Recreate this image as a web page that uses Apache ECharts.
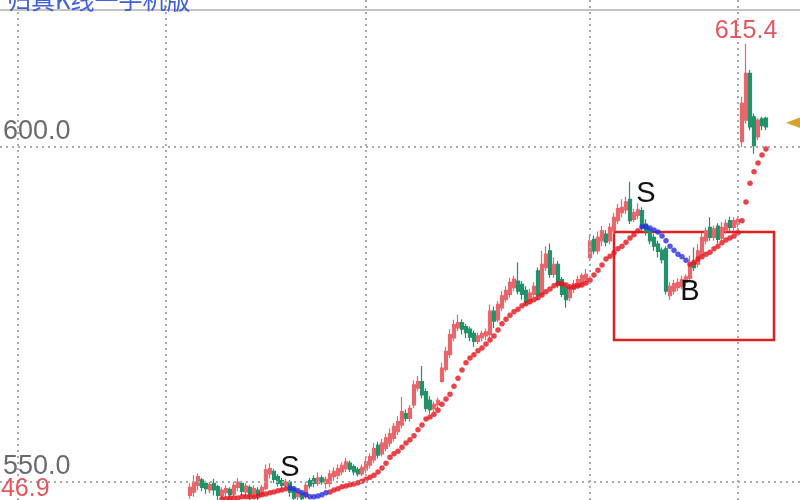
<!DOCTYPE html>
<html>
<head>
<meta charset="utf-8">
<script src="https://cdn.jsdelivr.net/npm/echarts@6/dist/echarts.min.js"></script>
<style>html,body{margin:0;padding:0;background:#fff;}#chart{width:800px;height:500px;}</style>
</head>
<body>
<div id="chart"></div>
<script>
// ---- data ----
const categoryCount = 200;
const firstCandleIndex = 47;
const opens = [
548.0,548.5,549.5,550.3,549.8,548.8,549.8,549.3,548.0,548.4,
548.9,548.2,549.2,549.8,548.5,549.2,548.3,548.8,548.2,549.0,
551.2,551.6,550.8,550.2,549.5,550.0,549.0,547.8,548.3,547.8,
550.2,550.5,549.8,550.6,549.8,549.8,550.8,551.0,551.5,552.0,
552.8,552.3,551.9,551.2,551.8,552.5,553.3,555.5,554.2,555.0,
555.8,556.5,557.5,558.5,560.2,559.5,561.5,564.0,565.0,563.5,
562.2,560.9,561.5,565.0,566.8,569.0,571.5,573.0,573.8,573.2,
572.8,572.2,571.0,571.5,571.8,572.0,575.5,574.2,576.0,577.2,
578.0,579.0,580.0,579.5,578.6,577.0,578.0,581.5,578.0,582.0,
584.5,581.0,582.5,580.2,579.0,577.5,578.8,579.2,579.6,580.2,
583.5,586.2,584.5,586.0,587.0,586.0,587.5,589.0,590.2,590.6,
592.2,589.2,589.8,590.5,588.5,587.6,586.5,585.5,584.6,584.8,
577.8,578.5,579.0,579.2,579.8,580.4,582.8,582.5,584.0,586.0,
588.0,586.5,588.2,586.4,587.6,589.0,588.0,588.5,600.8,604.0,
611.0,604.5,601.5,604.2,604.3];
const closes = [
549.2,550.0,550.8,549.2,549.0,549.6,548.8,548.0,548.8,549.0,
548.1,549.5,550.0,548.6,549.4,548.2,549.0,548.0,549.2,551.8,
552.0,550.4,549.8,549.5,550.0,548.5,547.6,548.4,547.5,549.5,
549.4,549.8,550.6,550.0,550.4,551.2,551.6,552.0,552.5,553.0,
551.9,551.5,551.2,552.2,553.0,553.8,555.0,554.0,555.8,556.6,
557.2,558.3,559.0,560.5,559.5,561.0,564.5,565.0,563.0,561.0,
560.8,561.6,562.2,567.0,569.5,572.0,573.5,573.8,572.8,572.3,
571.6,571.0,571.8,572.2,572.4,575.5,574.0,576.5,577.8,578.6,
579.8,580.3,578.5,578.0,576.8,578.2,579.2,577.8,582.5,584.0,
581.0,582.5,579.5,578.0,577.2,579.0,579.6,580.2,580.8,581.0,
586.0,584.5,586.5,587.5,585.8,588.0,589.5,590.8,591.0,591.8,
589.0,590.2,590.6,588.0,587.4,586.0,585.2,584.4,583.2,578.5,
579.2,579.6,579.8,580.2,580.6,582.5,582.0,584.5,586.5,587.5,
586.5,587.8,586.2,588.0,588.6,588.0,589.0,589.2,606.5,611.0,
603.0,600.2,604.0,603.2,603.0];
const lows = [
547.5,547.8,548.8,548.6,548.2,548.3,548.0,547.3,547.4,547.6,
547.4,547.8,548.6,548.0,547.7,546.9,547.6,547.2,547.8,548.8,
550.5,549.8,549.3,548.8,549.0,547.8,547.0,547.2,547.0,547.5,
549.0,549.2,549.4,549.6,549.0,549.2,550.2,550.4,551.0,551.5,
551.5,551.0,550.8,550.9,551.3,552.0,552.8,553.5,553.8,554.6,
555.2,556.0,557.0,558.0,559.0,559.0,561.0,563.5,562.5,560.5,
560.2,560.5,561.0,564.8,566.5,568.5,571.0,572.5,572.0,571.5,
571.0,570.2,570.6,571.0,571.2,571.5,573.0,573.8,575.5,576.8,
577.5,578.5,578.0,577.2,576.3,576.5,577.5,577.2,577.6,581.5,
580.5,580.5,579.0,577.6,576.0,577.0,578.2,578.8,579.2,579.6,
583.0,584.0,584.0,585.2,585.2,585.5,587.0,588.5,589.5,590.0,
588.5,588.8,589.2,587.5,586.8,585.5,584.5,583.5,582.6,578.0,
577.2,578.0,578.5,578.8,579.3,580.0,581.5,582.0,583.5,585.5,
586.0,586.0,585.6,586.0,587.0,587.5,587.5,588.0,600.0,603.5,
602.5,599.0,601.0,602.5,602.5];
const highs = [
549.8,551.0,551.3,550.6,550.2,550.0,550.5,549.6,549.2,549.5,
549.2,550.0,550.6,550.2,549.8,549.5,549.5,549.2,549.6,552.6,
552.8,551.9,551.2,550.6,550.5,550.3,549.3,548.8,548.6,550.0,
550.6,551.0,551.4,551.0,550.8,551.8,552.2,552.6,553.0,553.6,
553.2,552.6,552.2,552.6,553.6,554.3,555.8,556.0,556.4,557.2,
558.0,558.8,559.8,562.7,560.8,561.5,565.2,565.8,567.3,564.0,
562.8,562.0,562.6,567.8,570.2,572.8,574.2,575.0,574.3,573.6,
573.2,572.6,572.3,572.6,572.9,576.5,576.2,577.0,578.5,579.2,
580.5,580.8,582.8,580.0,579.2,578.8,579.8,582.0,584.5,585.2,
585.6,583.5,583.0,580.6,579.6,579.5,580.2,580.8,581.2,581.8,
587.0,586.8,587.4,588.2,587.6,588.6,590.2,591.5,592.2,592.6,
594.8,590.8,591.6,591.0,589.2,588.0,587.0,586.0,585.0,585.2,
579.8,580.2,580.4,580.8,581.0,583.8,585.0,585.5,587.2,588.0,
589.5,588.3,588.6,588.8,589.2,589.6,589.5,589.6,607.5,615.4,
611.5,605.0,604.3,604.5,604.5];

const sarStartIndex = 55;
const sarValues = [
547.5,547.5,547.6,547.6,547.6,547.8,547.8,547.8,547.8,547.9,
548.1,548.2,548.4,548.5,548.7,548.8,549.0,549.1,549.0,548.7,
548.4,548.1,547.8,547.8,547.9,548.1,548.4,548.5,548.8,549.0,
549.3,549.4,549.6,549.7,549.9,550.1,550.4,550.7,551.0,551.5,
552.1,552.8,553.7,554.2,554.6,555.2,555.8,556.3,556.9,557.8,
558.5,559.4,559.7,560.1,560.7,561.6,562.4,563.1,564.3,565.5,
566.7,567.8,568.5,569.0,569.6,570.0,570.6,571.2,571.8,572.7,
573.6,574.3,574.9,575.4,575.8,576.3,576.6,576.9,577.2,577.5,
577.9,578.4,578.8,579.3,579.6,579.6,579.4,579.1,579.1,579.3,
579.4,579.7,580.1,580.9,581.6,582.4,583.3,583.7,584.2,584.8,
585.2,585.8,586.4,586.9,587.5,588.1,588.1,587.9,587.6,587.3,
586.7,586.0,585.2,584.6,584.0,583.6,583.1,582.5,582.8,583.3,
583.6,584.0,584.3,584.8,585.2,585.7,586.1,586.4,586.7,587.2,
589.0,591.8,594.6,596.3,597.6,598.8,599.7];
const sarDownRanges = [[72, 81], [160, 171]];

const dayBreaks = ['4', '41', '91', '147', '184'];
const priceLines = [600, 550];
const priceLineLabels = ['600.0', '550.0'];
const signalTexts = ['S', 'S', 'B'];
const signalIndex = ['72', '161', '172'];
const signalPrice = [552.1, 593.0, 578.4];
const boxCorners = [['153', 587.3], ['193', 571.2]];
const highLabel = {index: '186', value: 615.4};
const lowLabelText = '546.9';
const currentPrice = {index: '198', value: 603.6};
const titleText = '归真K线一手机版';
const yMin = 547.31, yMax = 621.94;

// ---- build ----
const categories = [];
for (let k = 0; k < categoryCount; k++) categories.push(String(k));

const candleData = categories.map(function (c, k) {
  const j = k - firstCandleIndex;
  if (j < 0 || j >= opens.length) return '-';
  return [opens[j], closes[j], lows[j], highs[j]];
});

function isDown(k) {
  return sarDownRanges.some(function (r) { return k >= r[0] && k <= r[1]; });
}
const sarRed = [], sarBlue = [];
sarValues.forEach(function (v, j) {
  const k = sarStartIndex + j;
  (isDown(k) ? sarBlue : sarRed).push([String(k), v]);
});

const gridLineStyle = {color: '#a9a9a9', width: 2, type: [2, 4]};
const markLineData = [];
priceLines.forEach(function (p, n) {
  markLineData.push({
    yAxis: p,
    lineStyle: gridLineStyle,
    label: {show: true, position: 'insideStartTop', formatter: priceLineLabels[n],
      color: '#6b6b6b', fontSize: 27, fontFamily: 'Liberation Sans', distance: [3, 2]}
  });
});
dayBreaks.forEach(function (d) {
  markLineData.push({xAxis: d, lineStyle: gridLineStyle, label: {show: false}});
});

const markPointData = signalTexts.map(function (t, n) {
  return {
    coord: [signalIndex[n], signalPrice[n]],
    symbol: 'circle', symbolSize: 0,
    label: {show: true, position: 'inside', formatter: t, color: '#111',
      fontSize: 29, fontFamily: 'Liberation Sans'}
  };
});
markPointData.push({
  coord: [highLabel.index, highLabel.value], symbol: 'circle', symbolSize: 0,
  label: {show: true, position: 'inside', offset: [0, -13], formatter: highLabel.value.toFixed(1),
    color: '#e2585e', fontSize: 25, fontFamily: 'Liberation Sans'}
});
markPointData.push({
  coord: [currentPrice.index, currentPrice.value], symbol: 'triangle', symbolRotate: 90,
  symbolSize: [12, 16], itemStyle: {color: '#d9a02a'}, label: {show: false}
});

const chart = echarts.init(document.getElementById('chart'), null, {renderer: 'canvas'});
chart.setOption({
  animation: false,
  backgroundColor: '#ffffff',
  grid: {left: 0, right: 0, top: 0, bottom: 0},
  xAxis: {type: 'category', data: categories, boundaryGap: true,
    axisLine: {show: false}, axisTick: {show: false}, axisLabel: {show: false}, splitLine: {show: false}},
  yAxis: {type: 'value', min: yMin, max: yMax, scale: true,
    axisLine: {show: false}, axisTick: {show: false}, axisLabel: {show: false}, splitLine: {show: false}},
  graphic: [
    {type: 'line', shape: {x1: 0, y1: 10, x2: 800, y2: 10}, style: {stroke: '#c4c4c4', lineWidth: 2}, z: 10},
    {type: 'text', left: 7, top: -12, style: {text: titleText, fill: '#3d5fd8', fontSize: 24,
      fontFamily: 'Noto Sans CJK SC'}, z: 11},
    {type: 'text', left: -13, top: 477, style: {text: lowLabelText, fill: '#e2585e', fontSize: 25,
      fontFamily: 'Liberation Sans'}, z: 11}
  ],
  series: [
    {
      type: 'candlestick',
      data: candleData,
      barWidth: 3.6,
      itemStyle: {color: '#e8676c', color0: '#22926a', borderColor: '#e8676c', borderColor0: '#22926a', borderWidth: 1.2},
      markLine: {silent: true, symbol: ['none', 'none'], data: markLineData, animation: false},
      markPoint: {silent: true, data: markPointData, animation: false},
      markArea: {silent: true, itemStyle: {color: 'rgba(0,0,0,0)', borderColor: '#e0201f', borderWidth: 2.5},
        data: [[{coord: boxCorners[0]}, {coord: boxCorners[1]}]]},
      z: 3
    },
    {type: 'scatter', data: sarRed, symbolSize: 5.5, itemStyle: {color: '#e5141c'}, z: 4},
    {type: 'scatter', data: sarBlue, symbolSize: 5.5, itemStyle: {color: '#2830e0'}, z: 4}
  ]
});
</script>
</body>
</html>
